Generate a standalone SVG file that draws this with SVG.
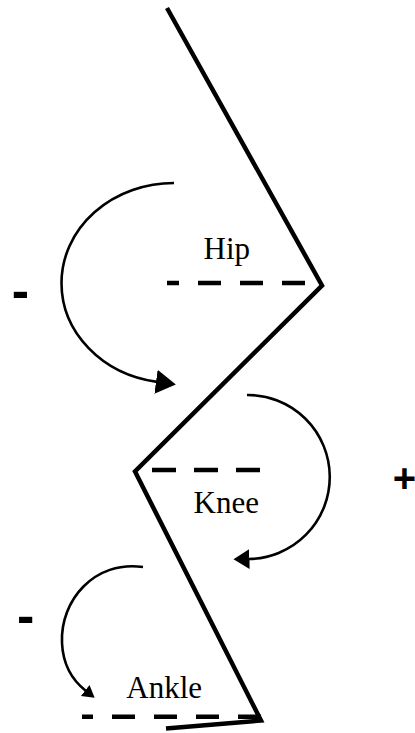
<svg xmlns="http://www.w3.org/2000/svg" width="415" height="733" viewBox="0 0 415 733">
<style>
.leg{fill:none;stroke:#000;stroke-width:4.5;stroke-linejoin:miter;stroke-linecap:butt}
.ref{fill:none;stroke:#000;stroke-width:4.5;stroke-dasharray:23 19}
.arc{fill:none;stroke:#000;stroke-width:2.6}
.lbl{font-family:"Liberation Serif","Times New Roman",serif;font-size:31px;fill:#000}
.sign{font-family:"Liberation Sans",Arial,sans-serif;font-weight:bold;fill:#000;text-anchor:middle}
</style>
<defs>
<marker id="ahL" markerUnits="userSpaceOnUse" markerWidth="22" markerHeight="26" refX="1" refY="12" orient="auto" viewBox="0 0 22 24"><path d="M0,0 L20,12 L0,24 Z" fill="#000"/></marker>
<marker id="ahM" markerUnits="userSpaceOnUse" markerWidth="18" markerHeight="22" refX="1" refY="10" orient="auto" viewBox="0 0 18 20"><path d="M0,0 L16,10 L0,20 Z" fill="#000"/></marker>
<marker id="ahS" markerUnits="userSpaceOnUse" markerWidth="14" markerHeight="16" refX="1" refY="7" orient="auto" viewBox="0 0 14 14"><path d="M0,0 L12,7 L0,14 Z" fill="#000"/></marker>
</defs>
<g id="leg">
<polyline class="leg" points="167,8 322,285.5 135,471.5 261,720.5 166,728.5"/>
</g>
<g id="hip">
<line class="ref" x1="305" y1="283" x2="167" y2="283"/>
<text class="lbl" x="203.5" y="259.3">Hip</text>
</g>
<g id="knee">
<line class="ref" x1="152" y1="470" x2="262" y2="470" style="stroke-dasharray:24 18"/>
<text class="lbl" x="193.6" y="512.7">Knee</text>
</g>
<g id="ankle">
<line class="ref" x1="261" y1="716.7" x2="82" y2="716.7"/>
<text class="lbl" x="126.3" y="698.3">Ankle</text>
</g>
<g id="connectors">
<path class="arc" d="M174,183 A112.5,100 0 0 0 61.5,283 A112.5,100 0 0 0 157,381.9" marker-end="url(#ahL)"/>
<path class="arc" d="M247,395 A82,82 0 0 1 248.5,559" marker-end="url(#ahM)"/>
<path class="arc" d="M143,567 C95,560 60,600 62,643 C63,665 72,680 86,691" marker-end="url(#ahS)"/>
</g>
<g id="signs">
<text class="sign" x="20.3" y="308" style="font-size:52px">-</text>
<text class="sign" x="404.5" y="492" style="font-size:40px">+</text>
<text class="sign" x="25.7" y="633" style="font-size:52px">-</text>
</g>
</svg>
